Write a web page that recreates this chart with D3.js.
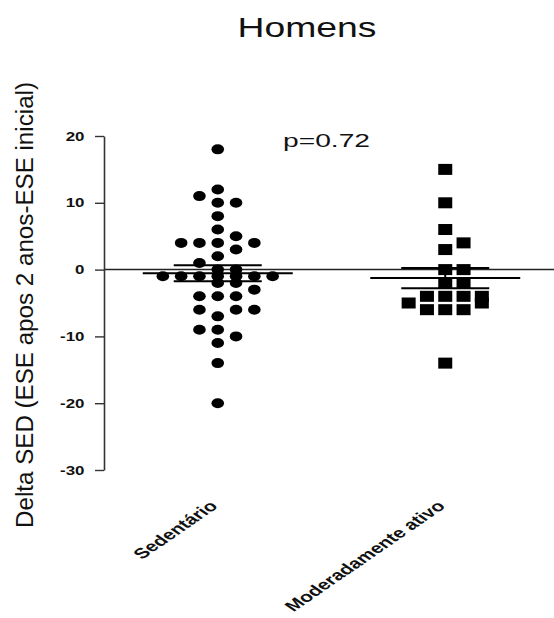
<!DOCTYPE html>
<html>
<head>
<meta charset="utf-8">
<script src="https://cdn.jsdelivr.net/npm/d3@7"></script>
<style>
  html, body { margin: 0; padding: 0; background: #fff; }
  svg { display: block; }
  text { font-family: "Liberation Sans", Arial, sans-serif; fill: #111; }
</style>
</head>
<body>
<svg id="chart" width="554" height="618"></svg>
<script>
// Change in SED score (after 2 years minus baseline), men
const categories = ["Sedentário", "Moderadamente ativo"];
const sedentario = [18, 12, 11, 10, 10, 8, 6, 5, 4, 4, 4, 4, 3, 2, 1, 0, 0,
  -1, -1, -1, -1, -1, -1, -1, -2, -2, -3, -4, -4, -4, -6, -6, -6, -7,
  -9, -9, -10, -11, -14, -20];
const moderado = [15, 10, 6, 4, 3, 0, 0, -2, -2, -4, -4, -4, -4, -5, -5,
  -6, -6, -6, -14];
const yTicks = [20, 10, 0, -10, -20, -30];
const titleText = "Homens";
const pText = "p=0.72";
const yTitle = "Delta SED (ESE apos 2 anos-ESE inicial)";

const width = 554, height = 618;
const svg = d3.select("#chart");

const y = d3.scaleLinear().domain([-30, 20]).range([470, 136]);
const x = d3.scalePoint().domain(categories).range([104, 559]).padding(0.5);

const laneStep = 18.3;   // horizontal distance between neighbouring symbols
const symW = 12.6, symH = 10;

// Spread equal / close values sideways in discrete lanes (bottom-up greedy)
function laneLayout(values) {
  const counts = d3.rollup(values, v => v.length, d => d);
  const maxLane = Math.floor(d3.max(counts.values()) / 2);
  const order = [0];
  for (let k = 1; k <= maxLane; k++) order.push(k, -k);
  const placed = [];
  const sorted = values.slice().sort((a, b) => a - b);
  const limit = symH + 1;
  sorted.forEach(v => {
    const py = y(v);
    let best = null, bestCost = Infinity;
    for (const lane of order) {
      let cost = 0;
      placed.forEach(p => {
        if (p.lane === lane) {
          const dy = Math.abs(p.py - py);
          if (dy < limit) cost += limit - dy;
        }
      });
      if (cost === 0) { best = lane; bestCost = 0; break; }
      if (cost < bestCost) { bestCost = cost; best = lane; }
    }
    placed.push({ value: v, lane: best, py });
  });
  return placed;
}

const groups = [
  { name: categories[0], values: sedentario, shape: "circle" },
  { name: categories[1], values: moderado, shape: "square" }
];

// zero reference line
svg.append("line")
  .attr("x1", x.range()[0]).attr("x2", width)
  .attr("y1", y(0)).attr("y2", y(0))
  .attr("stroke", "#222").attr("stroke-width", 1.5);

// y axis
const yAxis = d3.axisLeft(y).tickValues(yTicks).tickSize(9).tickSizeOuter(0)
  .tickFormat(d => String(d));
const gy = svg.append("g")
  .attr("transform", `translate(${x.range()[0]},0)`)
  .call(yAxis);
gy.select(".domain").attr("stroke", "#333").attr("stroke-width", 1.6);
gy.selectAll(".tick line").attr("stroke", "#333").attr("stroke-width", 1.4);
gy.selectAll(".tick text")
  .attr("x", -19.5 / 1.3)
  .attr("transform", "scale(1.3,1)")
  .style("font-family", "'Liberation Sans', Arial, sans-serif")
  .style("font-size", "13px")
  .style("font-weight", "bold")
  .attr("fill", "#222");

// points
groups.forEach(g => {
  const cx = x(g.name);
  const pts = laneLayout(g.values);
  const gg = svg.append("g");
  if (g.shape === "circle") {
    gg.selectAll("ellipse").data(pts).join("ellipse")
      .attr("cx", d => cx + d.lane * laneStep)
      .attr("cy", d => y(d.value))
      .attr("rx", symW / 2).attr("ry", symH / 2)
      .attr("fill", "#000");
  } else {
    gg.selectAll("rect").data(pts).join("rect")
      .attr("x", d => cx + d.lane * laneStep - 7)
      .attr("y", d => y(d.value) - 5.5)
      .attr("width", 14).attr("height", 11)
      .attr("fill", "#000");
  }
});

// mean and SEM bars
groups.forEach(g => {
  const cx = x(g.name);
  const m = d3.mean(g.values);
  const sem = d3.deviation(g.values) / Math.sqrt(g.values.length);
  const gg = svg.append("g").attr("stroke", "#000").attr("stroke-width", 2);
  gg.append("line").attr("x1", cx - 75).attr("x2", cx + 75)
    .attr("y1", y(m)).attr("y2", y(m));
  [m + sem, m - sem].forEach(v => {
    gg.append("line").attr("x1", cx - 44).attr("x2", cx + 44)
      .attr("y1", y(v)).attr("y2", y(v));
  });
  gg.append("line").attr("x1", cx).attr("x2", cx)
    .attr("y1", y(m + sem)).attr("y2", y(m - sem));
});

// category labels
categories.forEach(c => {
  svg.append("text")
    .attr("transform", `translate(${x(c) + 1},507) scale(1.45,1) rotate(-45)`)
    .attr("text-anchor", "end")
    .style("font-size", "14.5px")
    .style("font-weight", "bold")
    .text(c);
});

// title
svg.append("text")
  .attr("x", 307).attr("y", 37)
  .attr("text-anchor", "middle")
  .attr("textLength", 139).attr("lengthAdjust", "spacingAndGlyphs")
  .style("font-size", "28px")
  .text(titleText);

// p value
svg.append("text")
  .attr("x", 283).attr("y", 147)
  .attr("textLength", 87).attr("lengthAdjust", "spacingAndGlyphs")
  .style("font-size", "18px")
  .text(pText);

// y axis title
svg.append("text")
  .attr("transform", "translate(33,305) scale(1.12,1) rotate(-90)")
  .attr("text-anchor", "middle")
  .attr("textLength", 446).attr("lengthAdjust", "spacingAndGlyphs")
  .style("font-size", "22px")
  .text(yTitle);
</script>
</body>
</html>
